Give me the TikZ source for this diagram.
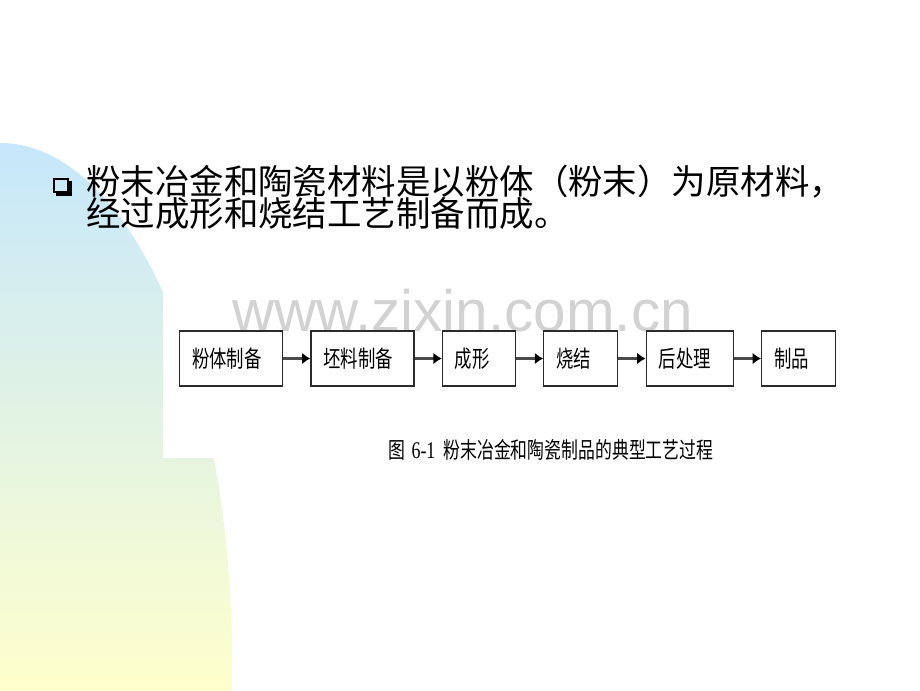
\documentclass[tikz,border=0pt]{standalone}
\usepackage{fontspec}
\newfontfamily\cjkfont{Noto Sans CJK SC}
\newfontfamily\cjknarrow[FakeStretch=0.75]{Noto Sans CJK SC}
\newfontfamily\numnarrow[FakeStretch=0.75]{Liberation Serif}
\newfontfamily\markfont{Liberation Sans}
\usetikzlibrary{positioning,arrows.meta}

\definecolor{skyblue}{HTML}{C6E7FB}
\definecolor{paleyellow}{HTML}{FFFFCC}
\definecolor{boxline}{HTML}{2B2B2B}
\definecolor{arrowline}{HTML}{4A4A4A}

\newcommand\leadsize{\cjkfont\fontsize{24.5}{30}\selectfont}
\newcommand\stagesize{\cjknarrow\fontsize{16.5}{18}\selectfont}

\begin{document}
\begin{tikzpicture}[%
    x=0.25mm, y=-0.25mm,
    >={Latex[length=2.1mm,width=2.9mm,color=black]},
    node distance=6.8mm,
    stage/.style={draw=boxline, line width=0.3mm, minimum height=13.75mm,
      inner xsep=3.1mm, inner ysep=0pt, align=left, font=\stagesize},
    flow/.style={->, draw=arrowline, line width=0.65mm}
    ]

    % background
    \fill[white] (0,0) rectangle (920,690);
    \useasboundingbox (0,0) rectangle (920,690);
    \begin{scope}
      \clip (0,660) ellipse [x radius=58mm, y radius=129.25mm];
      \shade[top color=skyblue, bottom color=paleyellow] (0,143) rectangle (240,690);
    \end{scope}
    \fill[white] (163,293) rectangle (920,458);

    % watermark
    \node[font=\markfont\fontsize{41.5}{42}\selectfont, text=gray!35,
      anchor=base west, inner sep=0pt] (mark) at (232,331) {www.zixin.com.cn};

    % bullet
    \draw[line width=0.5mm] (54,179) rectangle (68,192);
    \draw[line width=0.9mm] (70.5,181) -- (70.5,194.5) -- (56,194.5);

    \node[anchor=base west, inner sep=0pt, font=\leadsize] (line1) at (86,194)
      {粉末冶金和陶瓷材料是以粉体（粉末）为原材料，};
    \node[anchor=base west, inner sep=0pt, font=\leadsize] (line2) at (86,226)
      {经过成形和烧结工艺制备而成。};

    \node[stage, text width=19.55mm, anchor=west] (powder) at (179,358.5) {粉体制备};
    \node[stage, text width=19.55mm] (green) [right=of powder] {坯料制备};
    \node[stage, text width=12.05mm] (shaping) [right=of green] {成形};
    \node[stage, text width=12.3mm] (sinter) [right=of shaping] {烧结};
    \node[stage, text width=15.55mm] (post) [right=of sinter] {后处理};
    \node[stage, text width=12.3mm] (product) [right=of post] {制品};

    \path[flow] (powder) edge (green);
    \path[flow] (green) edge (shaping);
    \path[flow] (shaping) edge (sinter);
    \path[flow] (sinter) edge (post);
    \path[flow] (post) edge (product);

    \node[font=\cjknarrow\fontsize{16}{18}\selectfont, anchor=west, inner sep=0pt] (caption) at (388,450)
      {图\hspace{1.6mm}{\numnarrow\fontsize{17}{18}\selectfont 6-1}\hspace{2mm}粉末冶金和陶瓷制品的典型工艺过程};

    \end{tikzpicture}
\end{document}
